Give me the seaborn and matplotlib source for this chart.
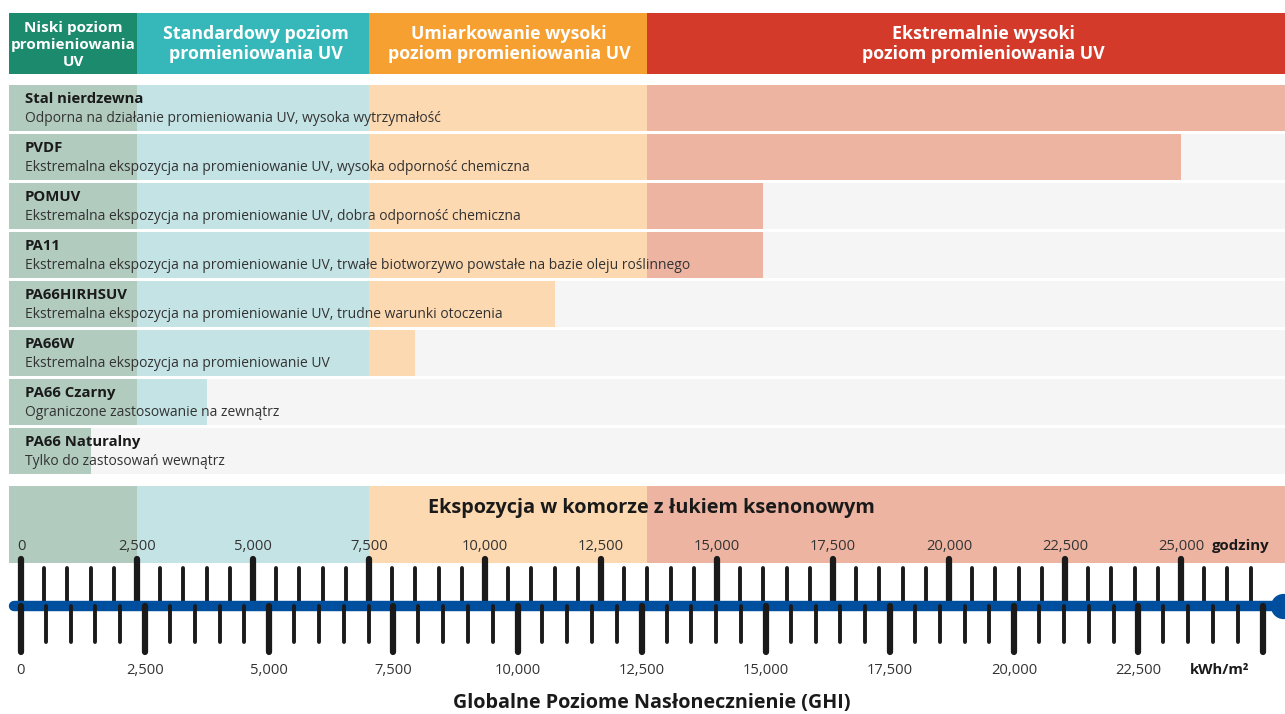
import matplotlib
matplotlib.use("Agg")
import matplotlib.pyplot as plt
import matplotlib.transforms as mtransforms
import seaborn as sns
import numpy as np
import pandas as pd

# ---------------- data ----------------
materials = ["Stal nierdzewna", "PVDF", "POMUV", "PA11", "PA66HIRHSUV",
             "PA66W", "PA66 Czarny", "PA66 Naturalny"]
descriptions = [
    "Odporna na działanie promieniowania UV, wysoka wytrzymałość",
    "Ekstremalna ekspozycja na promieniowanie UV, wysoka odporność chemiczna",
    "Ekstremalna ekspozycja na promieniowanie UV, dobra odporność chemiczna",
    "Ekstremalna ekspozycja na promieniowanie UV, trwałe biotworzywo powstałe na bazie oleju roślinnego",
    "Ekstremalna ekspozycja na promieniowanie UV, trudne warunki otoczenia",
    "Ekstremalna ekspozycja na promieniowanie UV",
    "Ograniczone zastosowanie na zewnątrz",
    "Tylko do zastosowań wewnątrz",
]
# xenon-arc exposure hours each material withstands (Stal = beyond scale)
hours_limit = [27500, 25000, 16000, 16000, 11500, 8500, 4000, 1500]

zone_names = ["Niski poziom\npromieniowania\nUV",
              "Standardowy poziom\npromieniowania UV",
              "Umiarkowanie wysoki\npoziom promieniowania UV",
              "Ekstremalnie wysoki\npoziom promieniowania UV"]
zone_edges_hours = [-259, 2500, 7500, 13500, 27242]   # zone boundaries (hours)

hour_ticks_major = list(range(0, 25001, 2500))
hour_ticks_minor = [h for h in range(0, 26501, 500) if h % 2500]
kwh_ticks_major = list(range(0, 25001, 2500))
kwh_ticks_minor = [k for k in range(0, 25001, 500) if k % 2500]
kwh_tick_labels = list(range(0, 22501, 2500))

# ---------------- style ----------------
sns.set_theme(style="white")
plt.rcParams['font.family'] = ['Open Sans', 'DejaVu Sans']

W, H = 1285, 714
PX_PER_H = 0.0464        # pixels per hour
PX_PER_K = 0.04966       # pixels per kWh/m2
X0PX = 21                # pixel position of 0

dark = ["#1c8a6c", "#36b8ba", "#f6a031", "#d33a2a"]
light = ["#b1cbbe", "#c4e3e5", "#fcd9b1", "#eeb4a2"]
grey = "#f5f5f5"

fig = plt.figure(figsize=(W / 100, H / 100), dpi=100)
fig.patch.set_facecolor("white")

# hours axis (full figure, y in pixels)
ax_h = fig.add_axes([0, 0, 1, 1])
ax_h.set_xlim(-X0PX / PX_PER_H, (W - X0PX) / PX_PER_H)
ax_h.set_ylim(H, 0)
ax_h.axis("off")

# kWh axis
ax_k = fig.add_axes([0, 0, 1, 1], sharey=ax_h)
ax_k.set_xlim(-X0PX / PX_PER_K, (W - X0PX) / PX_PER_K)
ax_k.axis("off")
ax_k.patch.set_alpha(0)

def px(xp):
    """pixel x -> hours data coordinate"""
    return (xp - X0PX) / PX_PER_H

# ---- header zones ----
starts = np.array(zone_edges_hours[:-1])
widths = np.diff(zone_edges_hours)
ax_h.barh([43.5] * 4, widths, left=starts, height=61, color=dark, linewidth=0)
# exposure band
ax_h.barh([524.5] * 4, widths, left=starts, height=77, color=light, linewidth=0)

hdr_x = [73, 256, 509, 983]
for i, (name, xp) in enumerate(zip(zone_names, hdr_x)):
    if i == 0:
        ax_h.text(px(xp), 45, name, ha="center", va="center", color="white",
                  fontsize=11, fontweight="bold", linespacing=1.3)
    else:
        ax_h.text(px(xp), 44, name, ha="center", va="center", color="white",
                  fontsize=12.8, fontweight="bold", linespacing=1.15)

# ---- material bars (seaborn) ----
n = len(materials)
pitch = 49
top_px = 108 - pitch / 2
ax_b = fig.add_axes([0, 1 - (top_px + n * pitch) / H, 1, n * pitch / H])
X0 = zone_edges_hours[0]
xl, xr = ax_h.get_xlim()
full = xr - X0
layers = [(grey, [full] * n)]
caps = zone_edges_hours[1:][::-1]  # red cap, orange cap, teal cap, green cap
layer_cols = light[::-1]
for cap, col in zip(caps, layer_cols):
    vals = [min(v, cap) - X0 for v in hours_limit]
    layers.append((col, vals))
for col, vals in layers:
    sns.barplot(x=vals, y=materials, orient="y", color=col, width=0.92,
                errorbar=None, linewidth=0, saturation=1, ax=ax_b)
ax_b.set_xlim(xl - X0, xr - X0)
ax_b.set_ylim(n - 0.5, -0.5)
ax_b.axis("off")
ax_b.patch.set_alpha(0)

tr = mtransforms.blended_transform_factory(ax_b.transAxes, ax_b.transData)
for i, (m, d) in enumerate(zip(materials, descriptions)):
    ax_b.text(25 / W, i - 0.19, m, transform=tr, ha="left", va="center",
              fontsize=10.7, fontweight="bold", color="#1a1a1a")
    ax_b.text(25 / W, i + 0.21, d, transform=tr, ha="left", va="center",
              fontsize=10, color="#333333")

# ---- exposure band title ----
ax_h.text(px(651), 508, "Ekspozycja w komorze z łukiem ksenonowym",
          ha="center", va="center", fontsize=14.3, fontweight="bold",
          color="#1a1a1a")

# ---- hour tick labels ----
for h in hour_ticks_major:
    ax_h.text(h, 546, f"{h:,}", ha="center", va="center", fontsize=10.6,
              color="#333333")
ax_h.text(px(1241), 546, "godziny", ha="center", va="center", fontsize=10.8,
          fontweight="bold", color="#1a1a1a")

# ---- ticks ----
tick_col = "#1a1a1a"
ax_h.vlines(hour_ticks_major, 559, 606, colors=tick_col, linewidth=4.5,
            capstyle="round")
ax_h.vlines(hour_ticks_minor, 568, 606, colors=tick_col, linewidth=2.8,
            capstyle="round")
ax_k.vlines(kwh_ticks_major, 606, 652, colors=tick_col, linewidth=4.5,
            capstyle="round")
ax_k.vlines(kwh_ticks_minor, 606, 642, colors=tick_col, linewidth=2.8,
            capstyle="round")

# ---- blue axis line ----
ax_h.plot([px(14), px(1283)], [606, 606], color="#004f9f", linewidth=7.5,
          solid_capstyle="round", zorder=5)
ax_h.scatter([px(1283)], [606], s=330, color="#004f9f", zorder=6,
             linewidths=0)

# ---- kWh tick labels ----
for k in kwh_tick_labels:
    ax_k.text(k, 670, f"{k:,}", ha="center", va="center", fontsize=10.6,
              color="#333333")
ax_h.text(px(1220), 670, "kWh/m²", ha="center", va="center", fontsize=10.7,
          fontweight="bold", color="#1a1a1a")

ax_h.text(px(652), 708, "Globalne Poziome Nasłonecznienie (GHI)",
          ha="center", va="baseline", fontsize=14.2, fontweight="bold",
          color="#1a1a1a")

fig.savefig("out.png", dpi=100, facecolor="white")
